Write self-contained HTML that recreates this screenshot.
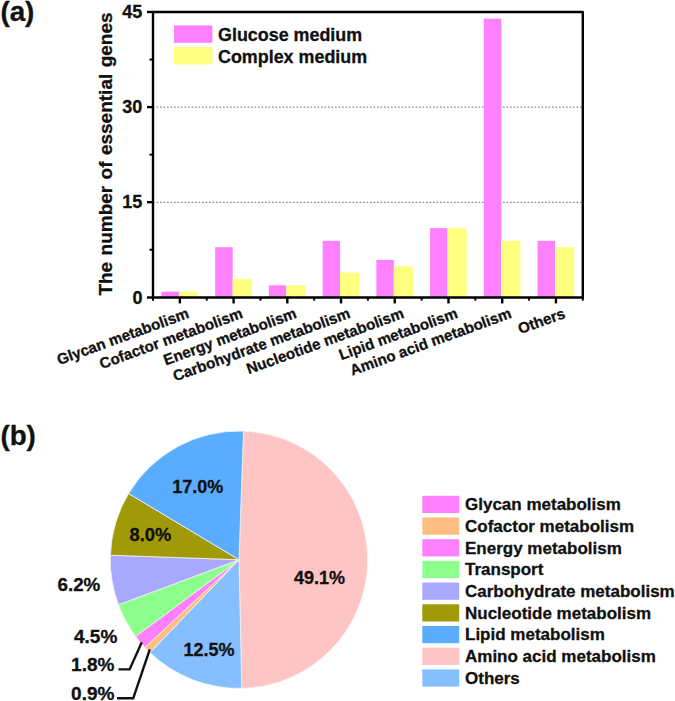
<!DOCTYPE html>
<html><head><meta charset="utf-8"><title>Essential genes</title>
<style>
html,body{margin:0;padding:0;background:#fff;}
svg{display:block}
text{font-family:"Liberation Sans",Arial,sans-serif;font-weight:bold;fill:#111;stroke:#111;stroke-width:0.3px;}
</style></head><body>
<svg width="675" height="701" viewBox="0 0 675 701">
<rect width="675" height="701" fill="#fff"/>

<line x1="153.0" x2="582.8" y1="202.30" y2="202.30" stroke="#8a8a8a" stroke-width="1.2" stroke-dasharray="1.7 1.8"/>
<line x1="153.0" x2="582.8" y1="107.05" y2="107.05" stroke="#8a8a8a" stroke-width="1.2" stroke-dasharray="1.7 1.8"/>
<rect x="161.46" y="291.65" width="17.5" height="5.35" fill="#ff80ff"/>
<rect x="178.86" y="291.65" width="19.2" height="5.35" fill="#ffff80"/>
<rect x="215.19" y="247.20" width="17.5" height="49.80" fill="#ff80ff"/>
<rect x="232.59" y="278.95" width="19.2" height="18.05" fill="#ffff80"/>
<rect x="268.91" y="285.30" width="17.5" height="11.70" fill="#ff80ff"/>
<rect x="286.31" y="285.30" width="19.2" height="11.70" fill="#ffff80"/>
<rect x="322.64" y="240.85" width="17.5" height="56.15" fill="#ff80ff"/>
<rect x="340.04" y="272.60" width="19.2" height="24.40" fill="#ffff80"/>
<rect x="376.36" y="259.90" width="17.5" height="37.10" fill="#ff80ff"/>
<rect x="393.76" y="266.25" width="19.2" height="30.75" fill="#ffff80"/>
<rect x="430.09" y="228.15" width="17.5" height="68.85" fill="#ff80ff"/>
<rect x="447.49" y="228.15" width="19.2" height="68.85" fill="#ffff80"/>
<rect x="483.81" y="18.60" width="17.5" height="278.40" fill="#ff80ff"/>
<rect x="501.21" y="240.85" width="19.2" height="56.15" fill="#ffff80"/>
<rect x="537.54" y="240.85" width="17.5" height="56.15" fill="#ff80ff"/>
<rect x="554.94" y="247.20" width="19.2" height="49.80" fill="#ffff80"/>
<rect x="153.0" y="12.0" width="429.79999999999995" height="285.45" fill="none" stroke="#000" stroke-width="2.4" stroke-linejoin="round"/>
<line x1="147.0" x2="153.0" y1="297.50" y2="297.50" stroke="#000" stroke-width="2.4"/>
<text x="142.4" y="304.10" font-size="18" text-anchor="end">0</text>
<line x1="147.0" x2="153.0" y1="202.19" y2="202.19" stroke="#000" stroke-width="2.4"/>
<text x="142.4" y="207.69" font-size="18" text-anchor="end">15</text>
<line x1="147.0" x2="153.0" y1="107.09" y2="107.09" stroke="#000" stroke-width="2.4"/>
<text x="142.4" y="112.59" font-size="18" text-anchor="end">30</text>
<line x1="147.0" x2="153.0" y1="11.98" y2="11.98" stroke="#000" stroke-width="2.4"/>
<text x="142.4" y="17.88" font-size="18" text-anchor="end">45</text>
<line x1="149.5" x2="153.0" y1="249.75" y2="249.75" stroke="#000" stroke-width="2"/>
<line x1="149.5" x2="153.0" y1="154.64" y2="154.64" stroke="#000" stroke-width="2"/>
<line x1="149.5" x2="153.0" y1="59.53" y2="59.53" stroke="#000" stroke-width="2"/>
<line x1="179.86" x2="179.86" y1="297.45" y2="303.45" stroke="#000" stroke-width="2.4"/>
<line x1="233.59" x2="233.59" y1="297.45" y2="303.45" stroke="#000" stroke-width="2.4"/>
<line x1="287.31" x2="287.31" y1="297.45" y2="303.45" stroke="#000" stroke-width="2.4"/>
<line x1="341.04" x2="341.04" y1="297.45" y2="303.45" stroke="#000" stroke-width="2.4"/>
<line x1="394.76" x2="394.76" y1="297.45" y2="303.45" stroke="#000" stroke-width="2.4"/>
<line x1="448.49" x2="448.49" y1="297.45" y2="303.45" stroke="#000" stroke-width="2.4"/>
<line x1="502.21" x2="502.21" y1="297.45" y2="303.45" stroke="#000" stroke-width="2.4"/>
<line x1="555.94" x2="555.94" y1="297.45" y2="303.45" stroke="#000" stroke-width="2.4"/>
<line x1="153.00" x2="153.00" y1="297.45" y2="300.65" stroke="#000" stroke-width="2"/>
<line x1="206.72" x2="206.72" y1="297.45" y2="300.65" stroke="#000" stroke-width="2"/>
<line x1="260.45" x2="260.45" y1="297.45" y2="300.65" stroke="#000" stroke-width="2"/>
<line x1="314.17" x2="314.17" y1="297.45" y2="300.65" stroke="#000" stroke-width="2"/>
<line x1="367.90" x2="367.90" y1="297.45" y2="300.65" stroke="#000" stroke-width="2"/>
<line x1="421.62" x2="421.62" y1="297.45" y2="300.65" stroke="#000" stroke-width="2"/>
<line x1="475.35" x2="475.35" y1="297.45" y2="300.65" stroke="#000" stroke-width="2"/>
<line x1="529.07" x2="529.07" y1="297.45" y2="300.65" stroke="#000" stroke-width="2"/>
<line x1="582.80" x2="582.80" y1="297.45" y2="300.65" stroke="#000" stroke-width="2"/>
<text transform="translate(190.06,317.50) rotate(-20)" font-size="15.2" text-anchor="end">Glycan metabolism</text>
<text transform="translate(243.79,317.50) rotate(-20)" font-size="15.2" text-anchor="end">Cofactor metabolism</text>
<text transform="translate(297.51,317.50) rotate(-20)" font-size="15.2" text-anchor="end">Energy metabolism</text>
<text transform="translate(351.24,317.50) rotate(-20)" font-size="15.2" text-anchor="end">Carbohydrate metabolism</text>
<text transform="translate(404.96,317.50) rotate(-20)" font-size="15.2" text-anchor="end">Nucleotide metabolism</text>
<text transform="translate(458.69,317.50) rotate(-20)" font-size="15.2" text-anchor="end">Lipid metabolism</text>
<text transform="translate(512.41,317.50) rotate(-20)" font-size="15.2" text-anchor="end">Amino acid metabolism</text>
<text transform="translate(566.14,317.50) rotate(-20)" font-size="15.2" text-anchor="end">Others</text>
<text transform="translate(112,295.6) rotate(-90)" font-size="19.0" word-spacing="1.1">The number of essential genes</text>
<rect x="174" y="25.4" width="38.4" height="17.4" fill="#ff80ff"/>
<rect x="174" y="47" width="38.4" height="17.4" fill="#ffff80"/>
<text x="218" y="40.8" font-size="17.9">Glucose medium</text>
<text x="218" y="62.6" font-size="17.9">Complex medium</text>
<text x="0.6" y="21.2" font-size="27.8" letter-spacing="-0.1" stroke="#111" stroke-width="0.5">(a)</text>
<text x="0.6" y="445.2" font-size="27.8" letter-spacing="-0.2" stroke="#111" stroke-width="0.5">(b)</text>
<path d="M239.0,559.7 L243.49,431.08 A128.7,128.7 0 0 1 241.73,688.37 Z" fill="#ffc4c4" stroke="#f4f4f4" stroke-width="0.8" stroke-linejoin="round"/>
<path d="M239.0,559.7 L241.73,688.37 A128.7,128.7 0 0 1 149.94,652.61 Z" fill="#85bfff" stroke="#f4f4f4" stroke-width="0.8" stroke-linejoin="round"/>
<path d="M239.0,559.7 L149.94,652.61 A128.7,128.7 0 0 1 144.87,647.47 Z" fill="#ffbf80" stroke="#f4f4f4" stroke-width="0.8" stroke-linejoin="round"/>
<path d="M239.0,559.7 L144.87,647.47 A128.7,128.7 0 0 1 135.64,636.38 Z" fill="#ff80ff" stroke="#f4f4f4" stroke-width="0.8" stroke-linejoin="round"/>
<path d="M239.0,559.7 L135.64,636.38 A128.7,128.7 0 0 1 118.45,604.77 Z" fill="#8cff8c" stroke="#f4f4f4" stroke-width="0.8" stroke-linejoin="round"/>
<path d="M239.0,559.7 L118.45,604.77 A128.7,128.7 0 0 1 110.38,555.21 Z" fill="#a8a8ff" stroke="#f4f4f4" stroke-width="0.8" stroke-linejoin="round"/>
<path d="M239.0,559.7 L110.38,555.21 A128.7,128.7 0 0 1 128.60,493.55 Z" fill="#a09a08" stroke="#f4f4f4" stroke-width="0.8" stroke-linejoin="round"/>
<path d="M239.0,559.7 L128.60,493.55 A128.7,128.7 0 0 1 243.49,431.08 Z" fill="#5aacff" stroke="#f4f4f4" stroke-width="0.8" stroke-linejoin="round"/>
<text x="197.8" y="492.7" font-size="18" text-anchor="middle">17.0%</text>
<text x="150.4" y="541.4" font-size="18.3" text-anchor="middle">8.0%</text>
<text x="319.5" y="584.2" font-size="18" text-anchor="middle">49.1%</text>
<text x="209" y="655.5" font-size="18" text-anchor="middle">12.5%</text>
<text x="100.3" y="590.9" font-size="18.8" text-anchor="end">6.2%</text>
<text x="117.3" y="643.2" font-size="19" text-anchor="end">4.5%</text>
<text x="114.4" y="671.3" font-size="19" text-anchor="end">1.8%</text>
<text x="114.4" y="699.6" font-size="19" text-anchor="end">0.9%</text>
<path d="M118.5,669.4 L129.6,669.4 L141.8,642.2" fill="none" stroke="#111" stroke-width="2.4" stroke-linejoin="miter"/>
<path d="M117,698.3 L133.2,698.3 L149.8,649.3" fill="none" stroke="#111" stroke-width="2.4" stroke-linejoin="miter"/>
<rect x="422.3" y="495.80" width="36.9" height="17.2" fill="#ff80ff"/>
<text x="465" y="510.20" font-size="17">Glycan metabolism</text>
<rect x="422.3" y="517.50" width="36.9" height="17.2" fill="#ffbf80"/>
<text x="465" y="531.90" font-size="17">Cofactor metabolism</text>
<rect x="422.3" y="539.20" width="36.9" height="17.2" fill="#ff80ff"/>
<text x="465" y="553.60" font-size="17">Energy metabolism</text>
<rect x="422.3" y="560.90" width="36.9" height="17.2" fill="#8cff8c"/>
<text x="465" y="575.30" font-size="17">Transport</text>
<rect x="422.3" y="582.60" width="36.9" height="17.2" fill="#a8a8ff"/>
<text x="465" y="597.00" font-size="17">Carbohydrate metabolism</text>
<rect x="422.3" y="604.30" width="36.9" height="17.2" fill="#a09a08"/>
<text x="465" y="618.70" font-size="17">Nucleotide metabolism</text>
<rect x="422.3" y="626.00" width="36.9" height="17.2" fill="#5aacff"/>
<text x="465" y="640.40" font-size="17">Lipid metabolism</text>
<rect x="422.3" y="647.70" width="36.9" height="17.2" fill="#ffc4c4"/>
<text x="465" y="662.10" font-size="17">Amino acid metabolism</text>
<rect x="422.3" y="669.40" width="36.9" height="17.2" fill="#85bfff"/>
<text x="465" y="683.80" font-size="17">Others</text>
</svg></body></html>
